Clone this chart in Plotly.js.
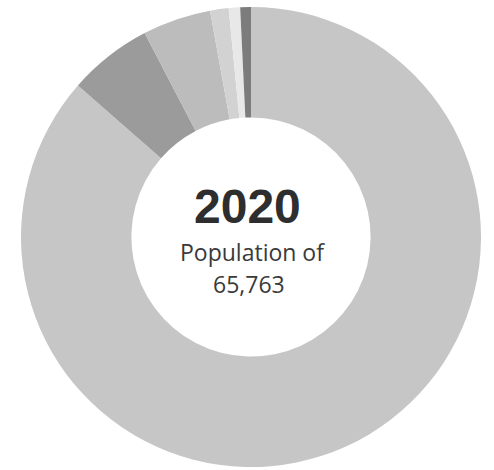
<!DOCTYPE html>
<html>
<head>
<meta charset="utf-8">
<script src="https://cdn.plot.ly/plotly-3.0.1.min.js"></script>
<style>html,body{margin:0;padding:0;background:#fff;}#chart{width:494px;height:470px;}</style>
</head>
<body>
<div id="chart"></div>
<script>
const segments = ["Segment 1", "Segment 2", "Segment 3", "Segment 4", "Segment 5", "Segment 6"];
const shares = [86.4, 5.9, 4.8, 1.3, 0.8, 0.75];
const sliceColors = ["#c6c6c6", "#9b9b9b", "#bcbcbc", "#d2d2d2", "#e8e8e8", "#7c7c7c"];
const yearLabel = "2020";
const subLabel = "Population of";
const populationLabel = "65,763";

const data = [{
  type: "pie",
  labels: segments,
  values: shares,
  hole: 0.52,
  sort: false,
  direction: "clockwise",
  rotation: 0,
  textinfo: "none",
  hoverinfo: "none",
  marker: {colors: sliceColors, line: {width: 0}},
  domain: {x: [21/494, 481/494], y: [3/470, 463/470]},
  showlegend: false
}];

const layout = {
  width: 494, height: 470,
  margin: {l: 0, r: 0, t: 0, b: 0},
  paper_bgcolor: "#ffffff",
  showlegend: false,
  annotations: [
    {text: "<b>" + yearLabel + "</b>", x: 247/494, y: 1 - 206/470, xref: "paper", yref: "paper",
     showarrow: false, font: {family: "Liberation Sans, Arial", size: 48, color: "#2e2e2e"}},
    {text: subLabel, x: 252/494, y: 1 - 252/470, xref: "paper", yref: "paper",
     showarrow: false, font: {family: "Open Sans", size: 23, color: "#3a3a3a"}},
    {text: populationLabel, x: 249/494, y: 1 - 284/470, xref: "paper", yref: "paper",
     showarrow: false, font: {family: "Open Sans", size: 23, color: "#3a3a3a"}}
  ]
};
Plotly.newPlot("chart", data, layout, {displayModeBar: false, staticPlot: true});
</script>
</body>
</html>
